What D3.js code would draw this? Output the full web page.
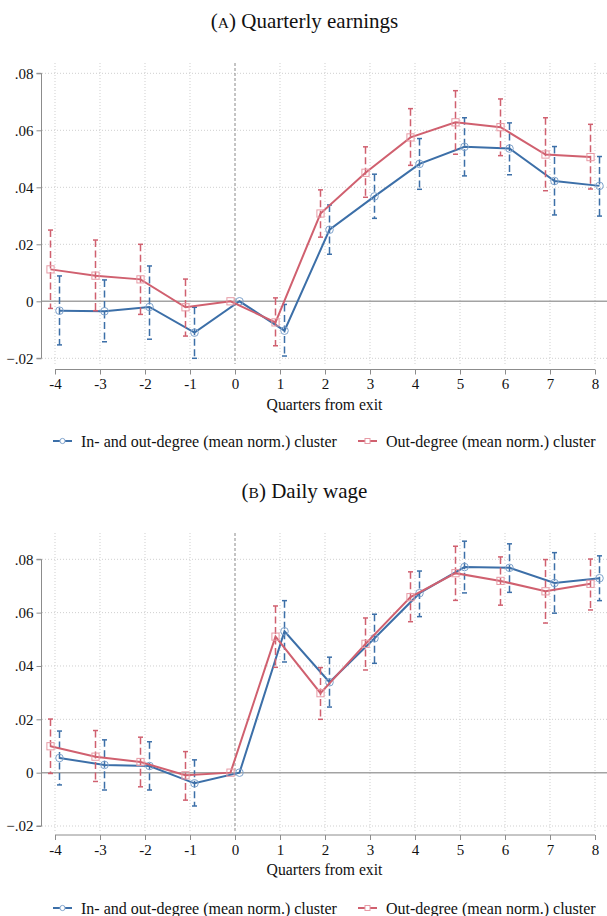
<!DOCTYPE html>
<html>
<head>
<meta charset="utf-8">
<script src="https://cdn.jsdelivr.net/npm/d3@7"></script>
<style>
  html, body { margin: 0; padding: 0; background: #fff; }
  svg, svg text { font-family: "Liberation Serif", "DejaVu Serif", serif; }
</style>
</head>
<body>
<svg id="chart" width="607" height="916"></svg>
<script>
// ─── Data ─────────────────────────────────────────────────────
const quarters = [-4, -3, -2, -1, 0, 1, 2, 3, 4, 5, 6, 7, 8];
const yTicks = [-0.02, 0, 0.02, 0.04, 0.06, 0.08];
const seriesNames = ['In- and out-degree (mean norm.) cluster', 'Out-degree (mean norm.) cluster'];

// Panel A: quarterly earnings
const earnInOut   = [-0.0033, -0.0035, -0.0020, -0.0110, 0, -0.0103, 0.0251, 0.0368, 0.0482, 0.0542, 0.0536, 0.0422, 0.0405];
const earnInOutLo = [-0.0153, -0.0142, -0.0133, -0.0200, null, -0.0192, 0.0165, 0.0291, 0.0393, 0.0440, 0.0444, 0.0303, 0.0299];
const earnInOutHi = [0.0089, 0.0075, 0.0124, -0.0021, null, -0.0011, 0.0338, 0.0446, 0.0571, 0.0644, 0.0626, 0.0543, 0.0508];
const earnOut     = [0.0112, 0.0090, 0.0077, -0.0021, 0, -0.0074, 0.0308, 0.0451, 0.0575, 0.0628, 0.0611, 0.0515, 0.0506];
const earnOutLo   = [-0.0025, -0.0033, -0.0046, -0.0122, null, -0.0156, 0.0225, 0.0365, 0.0477, 0.0516, 0.0511, 0.0388, 0.0394];
const earnOutHi   = [0.0250, 0.0215, 0.0200, 0.0078, null, 0.0012, 0.0391, 0.0542, 0.0676, 0.0739, 0.0710, 0.0644, 0.0621];

// Panel B: daily wage
const wageInOut   = [0.0055, 0.0029, 0.0025, -0.0040, 0, 0.0530, 0.0339, 0.0504, 0.0673, 0.0771, 0.0768, 0.0711, 0.0729];
const wageInOutLo = [-0.0046, -0.0065, -0.0065, -0.0125, null, 0.0415, 0.0246, 0.0410, 0.0585, 0.0674, 0.0676, 0.0598, 0.0645];
const wageInOutHi = [0.0156, 0.0123, 0.0116, 0.0048, null, 0.0645, 0.0433, 0.0594, 0.0756, 0.0868, 0.0858, 0.0825, 0.0813];
const wageOut     = [0.0099, 0.0060, 0.0040, -0.0010, 0, 0.0510, 0.0298, 0.0483, 0.0658, 0.0748, 0.0719, 0.0680, 0.0708];
const wageOutLo   = [-0.0003, -0.0033, -0.0053, -0.0103, null, 0.0395, 0.0200, 0.0385, 0.0566, 0.0646, 0.0628, 0.0561, 0.0610];
const wageOutHi   = [0.0201, 0.0158, 0.0133, 0.0079, null, 0.0625, 0.0394, 0.0580, 0.0753, 0.0849, 0.0809, 0.0799, 0.0801];

const BLUE = '#3c6fa8', BLUE_MK = '#7fa3cc';
const RED = '#d0606f', RED_MK = '#e79aa5';
const GRID = '#cfcfcf', AXIS = '#8c8c8c';
const FONT = '"Liberation Serif", "DejaVu Serif", serif';

const svg = d3.select('#chart');
const x = d3.scaleLinear().domain([-4, 8]).range([55, 595]);
const OFFSET = 0.1;   // horizontal dodge of the two series

function fmtY(v) {
    if (Math.abs(v) < 1e-9) return '0';
    return d3.format('.2f')(v).replace('0.', '.');
}

function drawPanel(opt) {
    const y = d3.scaleLinear().domain([-0.02, 0.08]).range([opt.yBottom, opt.yTop]);
    const g = svg.append('g');

    // title with small-caps letter
    const t = g.append('text')
        .attr('x', 304.5).attr('y', opt.titleY)
        .attr('text-anchor', 'middle').attr('font-size', 21).attr('fill', '#111')
        .style('font-family', FONT);
    t.append('tspan').text('(');
    t.append('tspan').attr('font-size', 15.5).text(opt.letter);
    t.append('tspan').text(') ' + opt.title);

    // grid
    g.selectAll('line.hgrid').data(yTicks.filter(v => v !== 0)).enter().append('line')
        .attr('x1', 42).attr('x2', 607)
        .attr('y1', d => y(d)).attr('y2', d => y(d))
        .attr('stroke', GRID).attr('stroke-width', 1).attr('stroke-dasharray', '1,2');
    g.selectAll('line.vgrid').data(quarters.filter(q => q !== 0)).enter().append('line')
        .attr('x1', d => x(d)).attr('x2', d => x(d))
        .attr('y1', opt.plotTop).attr('y2', opt.plotBottom)
        .attr('stroke', GRID).attr('stroke-width', 1).attr('stroke-dasharray', '1,2');

    // reference lines
    g.append('line').attr('x1', 42).attr('x2', 607).attr('y1', y(0)).attr('y2', y(0))
        .attr('stroke', '#a3a3a3').attr('stroke-width', 1.5);
    g.append('line').attr('x1', x(0)).attr('x2', x(0)).attr('y1', opt.plotTop).attr('y2', opt.plotBottom)
        .attr('stroke', '#8a8a8a').attr('stroke-width', 1).attr('stroke-dasharray', '3,2');

    // y axis
    const ya = g.append('g').attr('transform', 'translate(41.5,0)')
        .call(d3.axisLeft(y).tickValues(yTicks).tickFormat(fmtY).tickSize(5).tickPadding(3))
        .attr('font-family', null);
    ya.select('.domain').attr('stroke', AXIS).attr('d', `M-5,${y(0.08)}H0V${y(-0.02)}H-5`);
    ya.selectAll('.tick line').attr('stroke', AXIS);
    ya.selectAll('.tick text').attr('font-size', 15).attr('fill', '#111')
        .style('font-family', FONT);

    // x axis
    const xa = g.append('g').attr('transform', `translate(0,${opt.xAxisY})`)
        .call(d3.axisBottom(x).tickValues(quarters).tickFormat(d3.format('d')).tickSize(5).tickPadding(4))
        .attr('font-family', null);
    xa.select('.domain').attr('stroke', AXIS).attr('d', `M${x(-4)},0H${x(8)}`);
    xa.selectAll('.tick line').attr('stroke', AXIS);
    xa.selectAll('.tick text').attr('font-size', 15).attr('fill', '#111')
        .style('font-family', FONT)
        .text(d => d < 0 ? '-' + Math.abs(d) : d);

    g.append('text').attr('x', 324.5).attr('y', opt.xAxisY + 40)
        .attr('text-anchor', 'middle').attr('font-size', 15.7).attr('fill', '#111')
        .style('font-family', FONT)
        .text('Quarters from exit');

    // series
    opt.series.forEach(s => {
        const pts = quarters.map((q, i) => ({ q: q + s.dx, v: s.est[i], lo: s.lo[i], hi: s.hi[i] }));
        const sg = g.append('g');

        // CIs
        const ci = pts.filter(d => d.lo !== null);
        sg.selectAll('line.ci').data(ci).enter().append('line')
            .attr('x1', d => x(d.q)).attr('x2', d => x(d.q))
            .attr('y1', d => y(d.hi)).attr('y2', d => y(d.lo))
            .attr('stroke', s.color).attr('stroke-width', 1.5).attr('stroke-dasharray', '7,3.5');
        ['hi', 'lo'].forEach(k => {
            sg.selectAll('line.cap' + k).data(ci).enter().append('line')
                .attr('x1', d => x(d.q) - 2.5).attr('x2', d => x(d.q) + 2.5)
                .attr('y1', d => y(d[k])).attr('y2', d => y(d[k]))
                .attr('stroke', s.color).attr('stroke-width', 1.5);
        });

        // line
        sg.append('path').datum(pts)
            .attr('fill', 'none').attr('stroke', s.color).attr('stroke-width', 2)
            .attr('d', d3.line().x(d => x(d.q)).y(d => y(d.v)));

        // markers
        if (s.shape === 'circle') {
            sg.selectAll('circle').data(pts).enter().append('circle')
                .attr('cx', d => x(d.q)).attr('cy', d => y(d.v)).attr('r', 3.8)
                .attr('fill', 'none').attr('stroke', s.marker).attr('stroke-width', 1);
        } else {
            sg.selectAll('rect.mk').data(pts).enter().append('rect')
                .attr('x', d => x(d.q) - 3.6).attr('y', d => y(d.v) - 3.6)
                .attr('width', 7.2).attr('height', 7.2)
                .attr('fill', 'none').attr('stroke', s.marker).attr('stroke-width', 1);
        }
    });

    // legend
    const lg = g.append('g').attr('transform', `translate(0,${opt.legendY})`);
    const items = [
        { x0: 53, color: BLUE, marker: BLUE_MK, shape: 'circle', label: seriesNames[0] },
        { x0: 358, color: RED, marker: RED_MK, shape: 'square', label: seriesNames[1] }
    ];
    items.forEach(it => {
        lg.append('line').attr('x1', it.x0).attr('x2', it.x0 + 19).attr('y1', 0).attr('y2', 0)
            .attr('stroke', it.color).attr('stroke-width', 2);
        if (it.shape === 'circle') {
            lg.append('circle').attr('cx', it.x0 + 9.5).attr('cy', 0).attr('r', 2.6)
                .attr('fill', '#fff').attr('stroke', it.marker).attr('stroke-width', 1);
        } else {
            lg.append('rect').attr('x', it.x0 + 7).attr('y', -2.5).attr('width', 5).attr('height', 5)
                .attr('fill', '#fff').attr('stroke', it.marker).attr('stroke-width', 1);
        }
        lg.append('text').attr('x', it.x0 + 28).attr('y', 0).attr('dy', '0.35em')
            .attr('font-size', 16).attr('fill', '#111').style('font-family', FONT).text(it.label);
    });
}

drawPanel({
    letter: 'A', title: 'Quarterly earnings', titleY: 28,
    yTop: 73.3, yBottom: 358.3, plotTop: 63, plotBottom: 364, xAxisY: 369.5, legendY: 441,
    series: [
        { est: earnInOut, lo: earnInOutLo, hi: earnInOutHi, dx: OFFSET, color: BLUE, marker: BLUE_MK, shape: 'circle' },
        { est: earnOut, lo: earnOutLo, hi: earnOutHi, dx: -OFFSET, color: RED, marker: RED_MK, shape: 'square' }
    ]
});

drawPanel({
    letter: 'B', title: 'Daily wage', titleY: 498,
    yTop: 559.3, yBottom: 826, plotTop: 533, plotBottom: 831, xAxisY: 835, legendY: 908,
    series: [
        { est: wageInOut, lo: wageInOutLo, hi: wageInOutHi, dx: OFFSET, color: BLUE, marker: BLUE_MK, shape: 'circle' },
        { est: wageOut, lo: wageOutLo, hi: wageOutHi, dx: -OFFSET, color: RED, marker: RED_MK, shape: 'square' }
    ]
});
</script>
</body>
</html>
